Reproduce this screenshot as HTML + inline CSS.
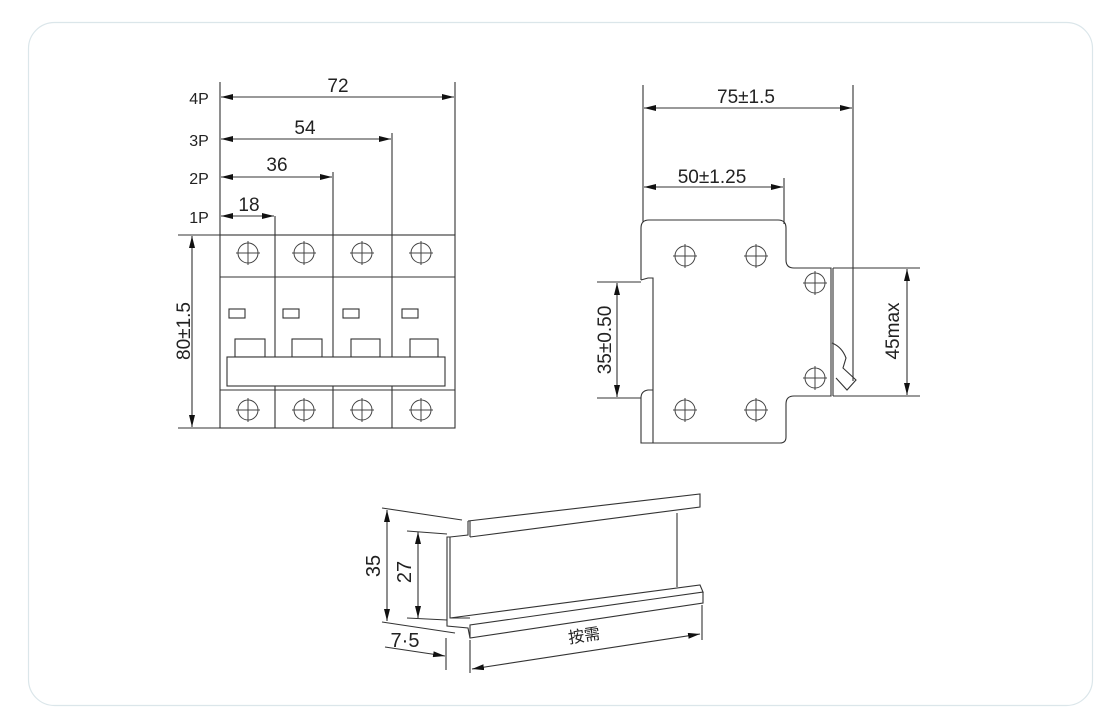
<!DOCTYPE html>
<html><head><meta charset="utf-8"><style>
html,body{margin:0;padding:0;background:#fff;}
svg{display:block;}
text{font-family:"Liberation Sans","Noto Sans CJK SC",sans-serif;fill:#222;}
</style></head><body>
<svg width="1120" height="723" viewBox="0 0 1120 723" xmlns="http://www.w3.org/2000/svg">
<defs>
<marker id="a" viewBox="0 0 12 6" refX="12" refY="3" markerWidth="12" markerHeight="6" orient="auto-start-reverse" markerUnits="userSpaceOnUse"><path d="M0,0 L12,3 L0,6 z" fill="#111"/></marker>
<g id="c"><circle r="10" fill="none" stroke="#444" stroke-width="1"/><line x1="-12" y1="0" x2="12" y2="0" stroke="#444"/><line x1="0" y1="-12" x2="0" y2="12" stroke="#444"/></g>
</defs>
<rect x="28.5" y="22.5" width="1064" height="683" rx="26" fill="#fff" stroke="#dbe6ea" stroke-width="1.2"/>

<g stroke="#333" stroke-width="1.1" fill="none">
<!-- LEFT -->
<line x1="220" y1="82" x2="220" y2="235"/>
<line x1="275" y1="216" x2="275" y2="235"/>
<line x1="333" y1="172" x2="333" y2="235"/>
<line x1="392" y1="133" x2="392" y2="235"/>
<line x1="455" y1="82" x2="455" y2="235"/>
<line x1="221" y1="97" x2="454" y2="97" marker-start="url(#a)" marker-end="url(#a)"/>
<line x1="221" y1="139" x2="391" y2="139" marker-start="url(#a)" marker-end="url(#a)"/>
<line x1="221" y1="177" x2="332" y2="177" marker-start="url(#a)" marker-end="url(#a)"/>
<line x1="221" y1="216" x2="274" y2="216" marker-start="url(#a)" marker-end="url(#a)"/>
<rect x="220" y="235" width="235" height="193"/>
<line x1="275" y1="235" x2="275" y2="428"/>
<line x1="333" y1="235" x2="333" y2="428"/>
<line x1="392" y1="235" x2="392" y2="428"/>
<line x1="220" y1="277" x2="455" y2="277"/>
<line x1="220" y1="390" x2="455" y2="390"/>
<rect x="229" y="309" width="16" height="9"/><rect x="283" y="309" width="16" height="9"/><rect x="343" y="309" width="16" height="9"/><rect x="402" y="309" width="16" height="9"/>
<rect x="235" y="339" width="30" height="18"/><rect x="292" y="339" width="30" height="18"/><rect x="351" y="339" width="29" height="18"/><rect x="410" y="339" width="28" height="18"/>
<rect x="227" y="357" width="218" height="29" fill="#fff"/>
<line x1="178" y1="235" x2="220" y2="235"/><line x1="178" y1="428" x2="220" y2="428"/>
<line x1="192" y1="236" x2="192" y2="427" marker-start="url(#a)" marker-end="url(#a)"/>

<!-- RIGHT -->
<line x1="643" y1="85" x2="643" y2="222"/>
<line x1="853" y1="85" x2="853" y2="381"/>
<line x1="644" y1="108" x2="852" y2="108" marker-start="url(#a)" marker-end="url(#a)"/>
<line x1="784" y1="178" x2="784" y2="224"/>
<line x1="644" y1="187" x2="783" y2="187" marker-start="url(#a)" marker-end="url(#a)"/>
<path d="M641,280 L641,228 Q641,220 649,220 L778,220 Q786,220 786,228 L786,260 Q786,268 794,268 L831,268 L831,396 L794,396 Q786,396 786,404 L786,437 Q786,443 780,443 L641,443 L641,398 Q641,391 648,390 L653,390"/>
<path d="M641,280 L648,278 L653,278 L653,443"/>
<line x1="833" y1="268" x2="833" y2="396"/>
<path d="M832,343 Q842,347 846,358 L843,368 L856,380 L847,390 L836,378"/>
<line x1="597" y1="282" x2="641" y2="282"/><line x1="597" y1="398" x2="641" y2="398"/>
<line x1="617" y1="283" x2="617" y2="397" marker-start="url(#a)" marker-end="url(#a)"/>
<line x1="833" y1="268" x2="920" y2="268"/><line x1="833" y1="396" x2="920" y2="396"/>
<line x1="907" y1="269" x2="907" y2="395" marker-start="url(#a)" marker-end="url(#a)"/>

<!-- RAIL -->
<path d="M468,521 L700,494 L700,507 L470,537"/>
<path d="M468,521 L468,535 L450,537 L447,537 L447,626 L468,628 L470,638 L703,603 L703,592"/>
<path d="M450,537 L450,618 L470,618"/>
<path d="M450,618 L700,585 L703,592 L470,625 L470,638"/>
<line x1="470" y1="537" x2="470" y2="521"/>
<line x1="677" y1="513" x2="677" y2="587"/>
<line x1="382" y1="508" x2="462" y2="520"/>
<line x1="407" y1="531" x2="447" y2="534"/>
<line x1="407" y1="618" x2="447" y2="620"/>
<line x1="382" y1="622" x2="455" y2="633"/>
<line x1="387" y1="510" x2="387" y2="621" marker-start="url(#a)" marker-end="url(#a)"/>
<line x1="418" y1="532" x2="418" y2="618" marker-start="url(#a)" marker-end="url(#a)"/>
<line x1="446" y1="638" x2="446" y2="670"/>
<line x1="470" y1="640" x2="470" y2="673"/>
<line x1="385" y1="647" x2="445" y2="656" marker-end="url(#a)"/>
<line x1="702" y1="605" x2="702" y2="640"/>
<line x1="472" y1="669" x2="700" y2="634" marker-start="url(#a)" marker-end="url(#a)"/>
</g>

<use href="#c" x="248" y="253"/><use href="#c" x="304" y="253"/><use href="#c" x="362" y="253"/><use href="#c" x="421" y="253"/>
<use href="#c" x="248" y="410"/><use href="#c" x="304" y="410"/><use href="#c" x="362" y="410"/><use href="#c" x="421" y="410"/>
<use href="#c" x="685" y="256"/><use href="#c" x="756" y="256"/><use href="#c" x="815" y="283"/><use href="#c" x="815" y="378"/><use href="#c" x="685" y="410"/><use href="#c" x="756" y="410"/>

<g font-size="19">
<text x="199" y="104" text-anchor="middle" font-size="16">4P</text>
<text x="199" y="146" text-anchor="middle" font-size="16">3P</text>
<text x="199" y="184" text-anchor="middle" font-size="16">2P</text>
<text x="199" y="223" text-anchor="middle" font-size="16">1P</text>
<text x="338" y="92" text-anchor="middle">72</text>
<text x="305" y="134" text-anchor="middle">54</text>
<text x="277" y="171" text-anchor="middle">36</text>
<text x="249" y="211" text-anchor="middle">18</text>
<text transform="translate(190,331) rotate(-90)" text-anchor="middle">80±1.5</text>
<text x="746" y="103" text-anchor="middle">75±1.5</text>
<text x="712" y="183" text-anchor="middle">50±1.25</text>
<text transform="translate(611,340) rotate(-90)" text-anchor="middle">35±0.50</text>
<text transform="translate(899,331) rotate(-90)" text-anchor="middle">45max</text>
<text transform="translate(380,566) rotate(-90)" text-anchor="middle" font-size="20">35</text>
<text transform="translate(411,572) rotate(-90)" text-anchor="middle" font-size="20">27</text>
<text x="405" y="647" text-anchor="middle" font-size="20">7·5</text>
<text transform="translate(585,641) rotate(-9)" text-anchor="middle" font-size="16">按需</text>
</g>
</svg>
</body></html>
